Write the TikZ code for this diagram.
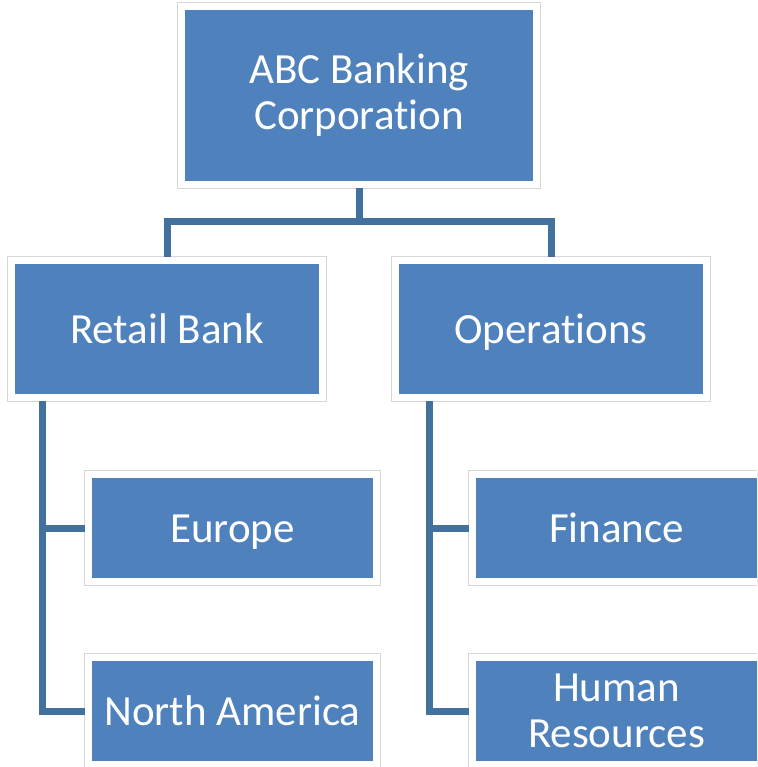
\documentclass[tikz,border=0pt]{standalone}
\usepackage{fontspec}
\setmainfont{Carlito}[Ligatures=NoCommon]
\usetikzlibrary{positioning}
\definecolor{boxblue}{RGB}{79,129,189}
\definecolor{linkblue}{RGB}{65,113,156}
\definecolor{rimgrey}{RGB}{214,214,214}

\begin{document}
\begin{tikzpicture}[
  x=1pt, y=-1pt,
  unit/.style={
    fill=boxblue, draw=white, line width=7pt,
    preaction={draw=rimgrey, line width=9pt, rounded corners=2pt},
    text=white, font=\fontsize{43}{46}\selectfont, align=center,
    inner sep=0pt
  },
  oneline/.style={text height=34pt, text depth=6pt},
  division/.style={unit, oneline, minimum width=311pt, minimum height=137pt},
  branch/.style={unit, minimum width=288pt, minimum height=107pt},
  link/.style={draw=linkblue, line width=7pt},
]
\clip (0,0) rectangle (757,767);
\fill[white] (0,0) rectangle (757,767);
\node[unit, minimum width=355pt, minimum height=178pt] (corp) at (359,95.5) {ABC Banking\\Corporation};
\node[division] (retail) at (167,329) {Retail Bank};
\node[division] (ops) at (551,329) {Operations};
\node[branch, oneline] (europe) at (232.5,528) {Europe};
\node[branch, oneline] (namerica) at (232.5,711) {North America};
\node[branch, oneline] (finance) at (616.5,528) {Finance};
\node[branch] (hr) at (616.5,711) {Human\\Resources};
\draw[link] (corp.south) -- ++(0,33) coordinate (bus);
\draw[link] (bus) -| (retail.north);
\draw[link] (bus) -| (ops.north);
\coordinate (rtrunk) at ([xshift=34pt]retail.south west);
\coordinate (otrunk) at ([xshift=37.5pt]ops.south west);
\draw[link] (rtrunk) |- (europe.west);
\draw[link] (rtrunk) |- (namerica.west);
\draw[link] (otrunk) |- (finance.west);
\draw[link] (otrunk) |- (hr.west);
\end{tikzpicture}
\end{document}
